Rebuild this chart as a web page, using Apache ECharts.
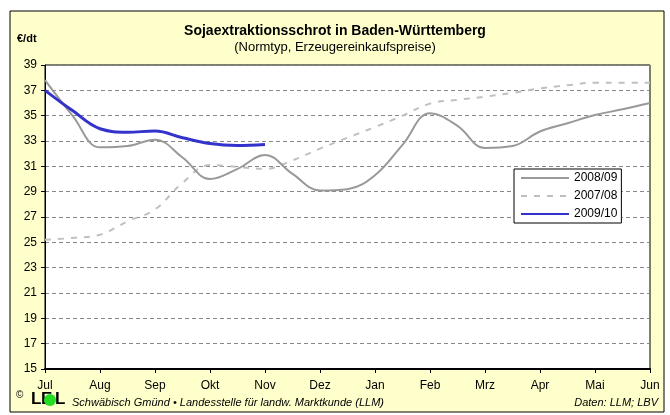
<!DOCTYPE html>
<html>
<head>
<meta charset="utf-8">
<script src="https://cdn.jsdelivr.net/npm/echarts@6/dist/echarts.min.js"></script>
<style>
  html, body { margin: 0; padding: 0; background: #fff; }
  #chart { width: 670px; height: 415px; }
</style>
</head>
<body>
<div id="chart"></div>
<script>
var months = ['Jul', 'Aug', 'Sep', 'Okt', 'Nov', 'Dez', 'Jan', 'Feb', 'Mrz', 'Apr', 'Mai', 'Jun'];
var step = 0.5;

var s0809 = [37.8, 35.0, 32.5, 32.6, 33.1, 31.7, 30.0, 30.8, 31.9, 30.4, 29.1, 29.2,
             30.3, 32.7, 35.2, 34.2, 32.45, 32.6, 33.75, 34.4, 35.05, 35.5, 36.0];
var s0708 = [25.2, 25.35, 25.6, 26.65, 27.6, 29.7, 31.1, 30.95, 30.8, 31.47, 32.4, 33.26,
             34.1, 35.0, 35.95, 36.25, 36.5, 36.8, 37.15, 37.4, 37.6, 37.6, 37.6];
var s0910 = [37.0, 35.4, 33.97, 33.7, 33.78, 33.26, 32.8, 32.65, 32.73];

// y-Achse 15..39 in 2er Schritten; Basis 15 damit Ticks bei ungeraden Werten liegen
var yMin = 15, yMax = 39, yStep = 2;

function pts(arr) {
    return arr.map(function (v, i) { return [i * step, v - yMin]; });
}

var chart = echarts.init(document.getElementById('chart'));
var font = '"Liberation Sans", Arial, sans-serif';

var option = {
    backgroundColor: '#fff',
    animation: false,
    title: {
        text: 'Sojaextraktionsschrot in Baden-Württemberg',
        subtext: '(Normtyp, Erzeugereinkaufspreise)',
        left: 'center',
        top: 19,
        itemGap: 3,
        textStyle: { fontFamily: font, fontSize: 14, fontWeight: 'bold', color: '#000' },
        subtextStyle: { fontFamily: font, fontSize: 13, color: '#000' }
    },
    legend: {
        orient: 'vertical',
        left: 514,
        top: 169,
        backgroundColor: '#fff',
        borderColor: '#000',
        borderWidth: 1,
        borderRadius: 0,
        padding: [3, 4, 3, 6],
        itemWidth: 48,
        itemHeight: 10,
        itemGap: 6,
        itemStyle: { opacity: 0 },
        textStyle: { fontFamily: font, fontSize: 12, color: '#000' },
        data: ['2008/09', '2007/08', '2009/10']
    },
    grid: {
        left: 45, right: 20, top: 65, bottom: 46,
        show: true,
        backgroundColor: '#fff',
        borderColor: '#000',
        borderWidth: 1
    },
    xAxis: {
        type: 'value',
        min: 0,
        max: months.length - 1,
        interval: 1,
        axisLine: { lineStyle: { color: '#000', width: 2 } },
        axisTick: { show: true, length: 4, lineStyle: { color: '#000' } },
        axisLabel: {
            fontFamily: font, fontSize: 12, color: '#000', margin: 11,
            formatter: function (v) { return months[v] || ''; }
        },
        splitLine: { show: false }
    },
    yAxis: {
        type: 'value',
        min: 0,
        max: yMax - yMin,
        interval: yStep,
        axisLine: { show: true, lineStyle: { color: '#000', width: 1 } },
        axisTick: { show: true, length: 4, lineStyle: { color: '#000' } },
        axisLabel: {
            fontFamily: font, fontSize: 12, color: '#000', margin: 8,
            formatter: function (v) { return v + yMin; }
        },
        splitLine: { show: true, lineStyle: { color: '#888', type: [4, 3], width: 1 } }
    },
    series: [
        {
            name: '2007/08', type: 'line', smooth: 0.4, symbol: 'none',
            lineStyle: { color: '#c0c0c0', width: 2, type: [6, 7] },
            itemStyle: { color: '#c0c0c0' },
            data: pts(s0708)
        },
        {
            name: '2008/09', type: 'line', smooth: 0.4, symbol: 'none',
            lineStyle: { color: '#999999', width: 2 },
            itemStyle: { color: '#999999' },
            data: pts(s0809)
        },
        {
            name: '2009/10', type: 'line', smooth: 0.4, symbol: 'none',
            lineStyle: { color: '#3333cc', width: 3 },
            itemStyle: { color: '#3333cc' },
            data: pts(s0910)
        }
    ],
    graphic: [
        {
            type: 'rect', z: -10, silent: true,
            shape: { x: 10, y: 11, width: 654, height: 401 },
            style: { fill: '#ffffcc', stroke: '#000', lineWidth: 1 }
        },
        {
            type: 'text', left: 17, top: 33,
            style: { text: '€/dt', font: 'bold 11px ' + font, fill: '#000' }
        },
        {
            type: 'text', left: 16, top: 390,
            style: { text: '©', font: '10px ' + font, fill: '#000' }
        },
        {
            type: 'text', left: 31, top: 391,
            style: { text: 'L', font: 'bold 17px ' + font, fill: '#000' }
        },
        {
            type: 'text', left: 41, top: 391,
            style: { text: 'E', font: 'bold 17px ' + font, fill: '#000' }
        },
        {
            type: 'circle', z: 10,
            shape: { cx: 50, cy: 400, r: 6 },
            style: { fill: '#22dd22' }
        },
        {
            type: 'text', left: 55, top: 391,
            style: { text: 'L', font: 'bold 17px ' + font, fill: '#000' }
        },
        {
            type: 'text', left: 72, top: 397,
            style: {
                text: 'Schwäbisch Gmünd • Landesstelle für landw. Marktkunde (LLM)',
                font: 'italic 11px ' + font, fill: '#000'
            }
        },
        {
            type: 'text', right: 12, top: 397,
            style: { text: 'Daten: LLM; LBV', font: 'italic 11px ' + font, fill: '#000' }
        }
    ]
};

chart.setOption(option);
</script>
</body>
</html>
